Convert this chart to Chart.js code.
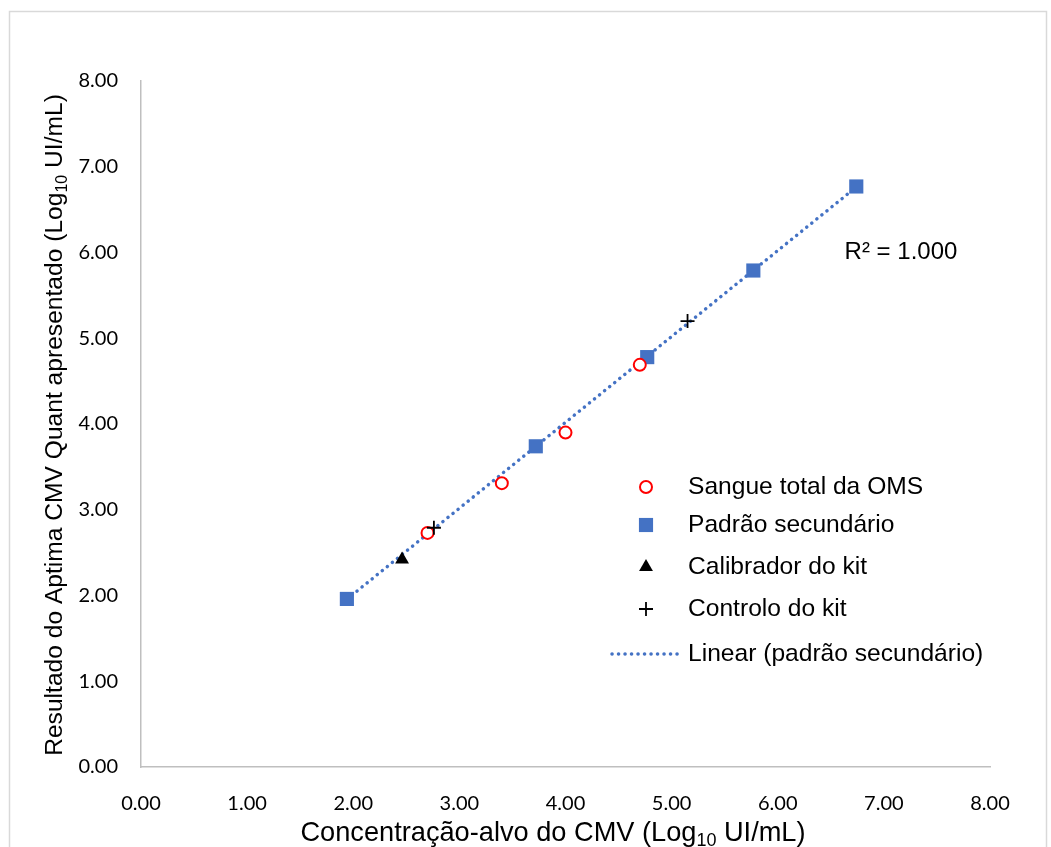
<!DOCTYPE html>
<html>
<head>
<meta charset="utf-8">
<script src="https://cdn.jsdelivr.net/npm/chart.js@4.4.0/dist/chart.umd.min.js"></script>
<style>
  html, body { margin: 0; padding: 0; background: #fff; }
  #chart { display: block; }
</style>
</head>
<body>
<canvas id="chart" width="1051" height="847"></canvas>
<script>
// Sangue total da OMS (red open circles)
var omsX = [2.70, 3.40, 4.00, 4.70];
var omsY = [2.73, 3.31, 3.90, 4.69];
// Padrao secundario (blue squares)
var secX = [1.94, 3.72, 4.77, 5.77, 6.74];
var secY = [1.96, 3.74, 4.78, 5.79, 6.77];
// Calibrador do kit
var calX = [2.46];
var calY = [2.42];
// Controlo do kit
var ctrlX = [2.76, 5.15];
var ctrlY = [2.79, 5.20];

var axisTicks = [0, 1, 2, 3, 4, 5, 6, 7, 8];

var legendLabels = ['Sangue total da OMS', 'Padrão secundário', 'Calibrador do kit', 'Controlo do kit', 'Linear (padrão secundário)'];

var blue = '#4472C4';

function toPoints(xs, ys) {
    return xs.map(function (x, i) { return { x: x, y: ys[i] }; });
}

// least squares trendline on the secondary standard (as Excel does)
function trend(xs, ys) {
    var n = xs.length, sx = 0, sy = 0, sxx = 0, sxy = 0;
    for (var i = 0; i < n; i++) { sx += xs[i]; sy += ys[i]; sxx += xs[i] * xs[i]; sxy += xs[i] * ys[i]; }
    var m = (n * sxy - sx * sy) / (n * sxx - sx * sx);
    var b = (sy - m * sx) / n;
    var x0 = Math.min.apply(null, xs), x1 = Math.max.apply(null, xs);
    return [{ x: x0, y: m * x0 + b }, { x: x1, y: m * x1 + b }];
}

var tickFont = { family: 'Lato', size: 20 };
var textFont = '"Liberation Sans", Arial, sans-serif';

var framePlugin = {
    id: 'frame',
    beforeDraw: function (chart) {
        var ctx = chart.ctx;
        ctx.save();
        ctx.fillStyle = '#fff';
        ctx.fillRect(0, 0, chart.width, chart.height);
        ctx.strokeStyle = '#d9d9d9';
        ctx.lineWidth = 1.5;
        ctx.strokeRect(9.5, 11.5, 1037, 850);
        ctx.restore();
    }
};

function drawSubText(ctx, parts, x, y, size) {
    // parts: [text, sub, text]
    var subSize = Math.round(size * 0.66);
    ctx.font = size + 'px ' + textFont;
    var w0 = ctx.measureText(parts[0]).width;
    var w2 = ctx.measureText(parts[2]).width;
    ctx.font = subSize + 'px ' + textFont;
    var w1 = ctx.measureText(parts[1]).width;
    var start = x - (w0 + w1 + w2) / 2;
    ctx.textAlign = 'left';
    ctx.textBaseline = 'alphabetic';
    ctx.font = size + 'px ' + textFont;
    ctx.fillText(parts[0], start, y);
    ctx.font = subSize + 'px ' + textFont;
    ctx.fillText(parts[1], start + w0, y + size * 0.2);
    ctx.font = size + 'px ' + textFont;
    ctx.fillText(parts[2], start + w0 + w1, y);
}

var textPlugin = {
    id: 'texts',
    afterDraw: function (chart) {
        var ctx = chart.ctx;
        var xs = chart.scales.x, ys = chart.scales.y;
        ctx.save();
        ctx.fillStyle = '#000';
        // axis titles
        drawSubText(ctx, ['Concentração-alvo do CMV (Log', '10', ' UI/mL)'], 553, 841, 27.2);
        ctx.save();
        ctx.translate(62, 425);
        ctx.rotate(-Math.PI / 2);
        drawSubText(ctx, ['Resultado do Aptima CMV Quant apresentado (Log', '10', ' UI/mL)'], 0, 0, 24.6);
        ctx.restore();

        // R squared label
        ctx.font = '24px ' + textFont;
        ctx.textAlign = 'left';
        ctx.textBaseline = 'alphabetic';
        ctx.fillText('R² = 1.000', xs.getPixelForValue(6.63), ys.getPixelForValue(5.93));

        // legend
        var rowY = [487, 525, 567, 609, 654];
        var markX = 646;
        var ds = chart.data.datasets;
        for (var i = 0; i < 4; i++) {
            var d = ds[i];
            ctx.save();
            ctx.fillStyle = d.pointBackgroundColor;
            ctx.strokeStyle = d.pointBorderColor;
            ctx.lineWidth = d.pointBorderWidth;
            Chart.helpers.drawPoint(ctx, {
                pointStyle: d.pointStyle,
                radius: d.pointRadius,
                rotation: 0,
                borderWidth: d.pointBorderWidth
            }, markX, rowY[i]);
            ctx.restore();
        }
        ctx.save();
        ctx.strokeStyle = blue;
        ctx.lineWidth = 3.5;
        ctx.lineCap = 'round';
        ctx.setLineDash([0.1, 6.4]);
        ctx.beginPath();
        ctx.moveTo(612, rowY[4]);
        ctx.lineTo(680, rowY[4]);
        ctx.stroke();
        ctx.restore();

        ctx.fillStyle = '#000';
        ctx.font = '24.6px ' + textFont;
        ctx.textBaseline = 'middle';
        ctx.textAlign = 'left';
        for (var j = 0; j < legendLabels.length; j++) {
            ctx.fillText(legendLabels[j], 688, rowY[j]);
        }
        ctx.restore();
    }
};

var ctx = document.getElementById('chart');

var chart = new Chart(ctx, {
    type: 'scatter',
    data: {
        datasets: [
            {
                label: legendLabels[0],
                data: toPoints(omsX, omsY),
                pointStyle: 'circle',
                pointRadius: 6,
                pointBorderWidth: 2,
                pointBackgroundColor: '#fff',
                pointBorderColor: '#FF0000',
                order: 1
            },
            {
                label: legendLabels[1],
                data: toPoints(secX, secY),
                pointStyle: 'rect',
                pointRadius: 10,
                pointBorderWidth: 0,
                pointBackgroundColor: blue,
                pointBorderColor: blue,
                order: 2
            },
            {
                label: legendLabels[2],
                data: toPoints(calX, calY),
                pointStyle: 'triangle',
                pointRadius: 8,
                pointBorderWidth: 0,
                pointBackgroundColor: '#000',
                pointBorderColor: '#000',
                order: 0
            },
            {
                label: legendLabels[3],
                data: toPoints(ctrlX, ctrlY),
                pointStyle: 'cross',
                pointRadius: 7,
                pointBorderWidth: 1.8,
                pointBackgroundColor: '#000',
                pointBorderColor: '#000',
                order: 0
            },
            {
                label: legendLabels[4],
                type: 'line',
                data: trend(secX, secY),
                borderColor: blue,
                borderWidth: 3.5,
                borderDash: [0.1, 6.4],
                borderCapStyle: 'round',
                pointRadius: 0,
                fill: false,
                order: 3
            }
        ]
    },
    options: {
        responsive: false,
        animation: false,
        layout: { padding: { left: 0, top: 81, right: 61, bottom: 0 } },
        plugins: {
            legend: { display: false },
            tooltip: { enabled: false }
        },
        scales: {
            x: {
                type: 'linear',
                min: 0,
                max: 8,
                afterBuildTicks: function (axis) { axis.ticks = axisTicks.map(function (v) { return { value: v }; }); },
                afterFit: function (axis) { axis.height = 80; },
                grid: { display: false, drawTicks: false },
                border: { display: true, color: '#bfbfbf', width: 1.5 },
                ticks: {
                    font: tickFont,
                    color: '#000',
                    padding: 25,
                    maxRotation: 0,
                    callback: function (v) { return v.toFixed(2); }
                }
            },
            y: {
                type: 'linear',
                min: 0,
                max: 8,
                afterBuildTicks: function (axis) { axis.ticks = axisTicks.map(function (v) { return { value: v }; }); },
                afterFit: function (axis) { axis.width = 141; },
                grid: { display: false, drawTicks: false },
                border: { display: true, color: '#bfbfbf', width: 1.5 },
                ticks: {
                    font: tickFont,
                    color: '#000',
                    padding: 23,
                    callback: function (v) { return v.toFixed(2); }
                }
            }
        }
    },
    plugins: [framePlugin, textPlugin]
});
</script>
</body>
</html>
